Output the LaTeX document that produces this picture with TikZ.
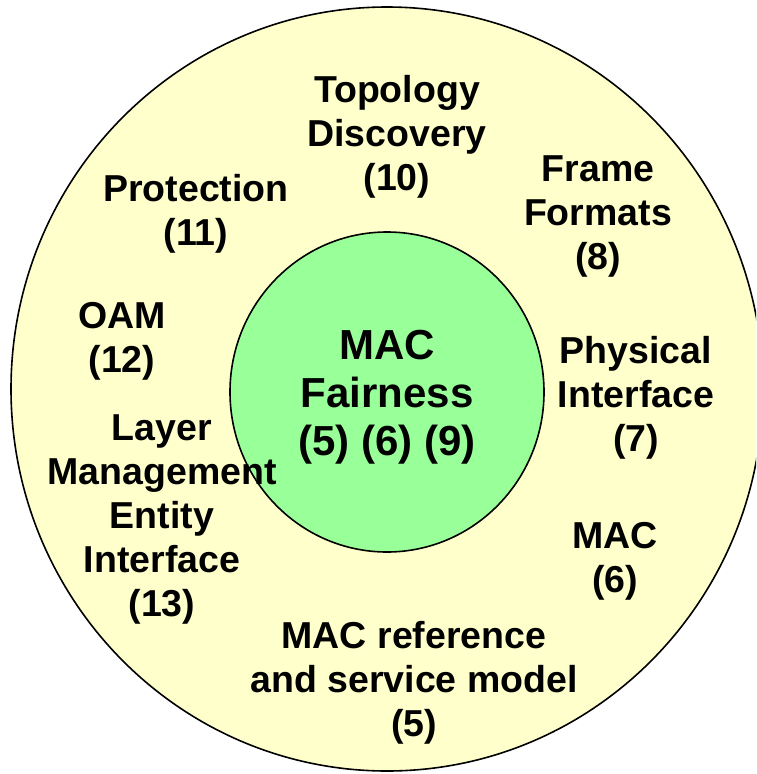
\documentclass[tikz,border=0pt]{standalone}
\usepackage{fontspec}
\setmainfont{Liberation Sans}
\definecolor{outerfill}{HTML}{FFFFCC}
\definecolor{innerfill}{HTML}{99FF99}
\begin{document}
\begin{tikzpicture}[x=1pt,y=-1pt,
  lbl/.style={align=center,inner sep=0pt,font=\bfseries\fontsize{37.5}{44}\selectfont},
  biglbl/.style={align=center,inner sep=0pt,font=\bfseries\fontsize{42}{48}\selectfont},
  ring/.style={draw=black,line width=1.6pt}]
\useasboundingbox (0,0) rectangle (756,774);
\clip (0,0) rectangle (756,774);
\path[ring,fill=outerfill] (387,389) ellipse [x radius=376, y radius=382];
\path[ring,fill=innerfill] (387,392) ellipse [x radius=157, y radius=160];
\node[biglbl] (core) at (387,397) {MAC\\Fairness\\(5) (6) (9)};
\node[lbl] (topo) at (397,137) {Topology\\Discovery\\(10)};
\node[lbl] (frame) at (598,216) {Frame\\Formats\\(8)};
\node[lbl] (prot) at (196,214) {Protection\\(11)};
\node[lbl] (oam) at (122,341) {OAM\\(12)};
\node[lbl] (phys) at (636,398) {Physical\\Interface\\(7)};
\node[lbl] (lme) at (162,519) {Layer\\Management\\Entity\\Interface\\(13)};
\node[lbl] (mac) at (615,561) {MAC\\(6)};
\node[lbl] (ref) at (414,683) {MAC reference\\and service model\\(5)};
\end{tikzpicture}
\end{document}
